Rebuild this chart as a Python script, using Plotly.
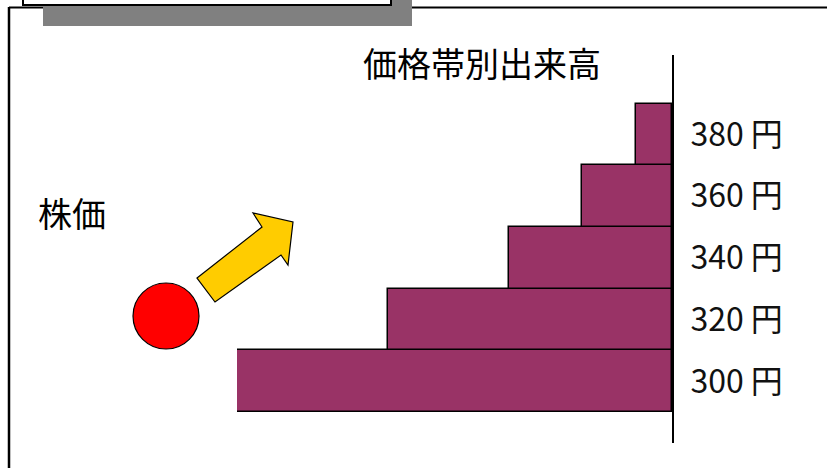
"""
価格帯別出来高のイメージ図
Plotlyを使用
"""

import plotly.graph_objects as go

# 価格帯と出来高（相対値）
price_bands = ["300", "320", "340", "360", "380"]
price_labels = ["300 円", "320 円", "340 円", "360 円", "380 円"]
volumes = [435, 284, 163, 90, 36]

W, H = 827, 468
FONT = "Noto Sans CJK JP"
BAR_COLOR = "#993366"


def px(x):
    return x / W


def py(y):
    return 1 - y / H


fig = go.Figure()

fig.add_trace(go.Bar(
    x=volumes,
    y=price_bands,
    orientation="h",
    marker=dict(color=BAR_COLOR, line=dict(color="black", width=1.5)),
    hoverinfo="skip",
    showlegend=False,
))

shapes = []
# 外枠（左と上）
shapes.append(dict(type="line", xref="paper", yref="paper",
                   x0=px(9), y0=py(7.5), x1=px(827), y1=py(7.5),
                   line=dict(color="black", width=2)))
shapes.append(dict(type="line", xref="paper", yref="paper",
                   x0=px(9), y0=py(7), x1=px(9), y1=py(468),
                   line=dict(color="black", width=2.5)))
# 上部の箱と影
shapes.append(dict(type="rect", xref="paper", yref="paper",
                   x0=px(43), y0=py(26), x1=px(412), y1=py(0),
                   fillcolor="#808080", line=dict(width=0)))
shapes.append(dict(type="rect", xref="paper", yref="paper",
                   x0=px(23), y0=py(5), x1=px(391), y1=py(-5),
                   fillcolor="white", line=dict(color="black", width=2)))
# 株価の丸
shapes.append(dict(type="circle", xref="paper", yref="paper",
                   x0=px(133), y0=py(349), x1=px(199), y1=py(283),
                   fillcolor="#ff0000", line=dict(color="black", width=1.2)))
# 矢印
arrow = [(197, 278), (262, 227), (253, 213), (293, 222),
         (288, 265), (281, 255), (215, 302)]
path = "M " + " L ".join(f"{px(x):.5f},{py(y):.5f}" for x, y in arrow) + " Z"
shapes.append(dict(type="path", xref="paper", yref="paper", path=path,
                   fillcolor="#ffcc00", line=dict(color="black", width=1.2)))

annotations = [
    dict(text="価格帯別出来高", x=px(482), y=py(63), xref="paper", yref="paper",
         showarrow=False, font=dict(family=FONT, size=34, color="black"),
         xanchor="center", yanchor="middle"),
    dict(text="株価", x=px(72), y=py(213), xref="paper", yref="paper",
         showarrow=False, font=dict(family=FONT, size=34, color="black"),
         xanchor="center", yanchor="middle"),
]

fig.update_layout(
    width=W,
    height=H,
    margin=dict(l=0, r=0, t=0, b=0),
    paper_bgcolor="white",
    plot_bgcolor="rgba(0,0,0,0)",
    bargap=0,
    shapes=shapes,
    annotations=annotations,
    xaxis=dict(
        domain=[px(237), px(672)],
        range=[435, 0],
        visible=False,
        fixedrange=True,
    ),
    yaxis=dict(
        domain=[py(443), py(55)],
        type="category",
        categoryorder="array",
        categoryarray=price_bands,
        range=[-1.0, 5.29],
        side="right",
        showline=True,
        linecolor="black",
        linewidth=2,
        showgrid=False,
        zeroline=False,
        ticks="",
        tickvals=price_bands,
        ticktext=price_labels,
        ticklabelstandoff=10,
        tickfont=dict(family=FONT, size=32, color="#111111"),
        fixedrange=True,
    ),
)

# ページ余白をなくして図を左上に合わせる
fig.write_html("out.html", config={"displayModeBar": False},
               post_script="document.body.style.margin='0';")
